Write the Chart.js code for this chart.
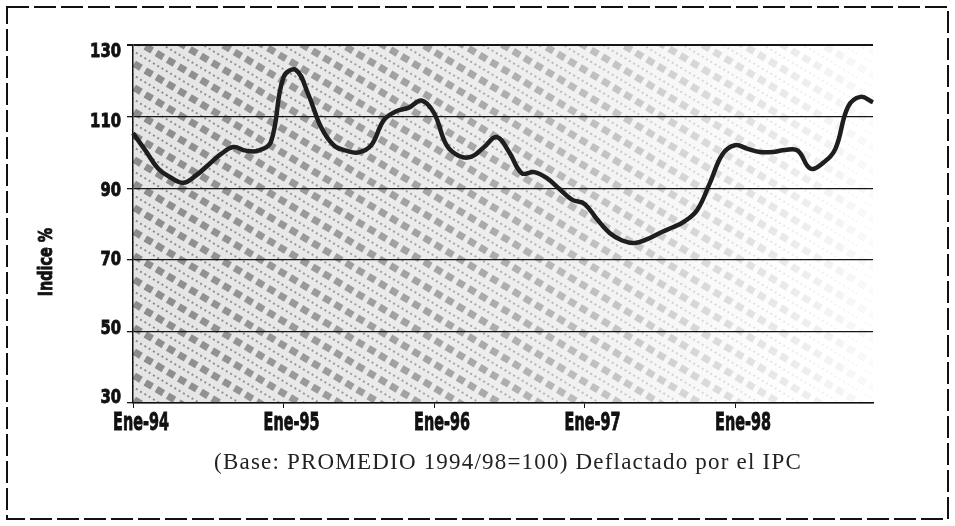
<!DOCTYPE html>
<html>
<head>
<meta charset="utf-8">
<script src="https://cdn.jsdelivr.net/npm/chart.js@4"></script>
<style>
  html, body { margin: 0; padding: 0; background: #fff; }
  #wrap { width: 955px; height: 526px; }
</style>
</head>
<body>
<div id="wrap"><canvas id="indiceChart" width="955" height="526"></canvas></div>
<script>
const months = ['Ene', 'Feb', 'Mar', 'Abr', 'May', 'Jun', 'Jul', 'Ago', 'Sep', 'Oct', 'Nov', 'Dic'];
const years = ['94', '95', '96', '97', '98'];
const yTicks = [30, 50, 70, 90, 110, 130];

// indice mensual, ene-94 .. dic-98
const indice = [
    105.4, 100.5, 95.5, 93, 91.5, 93.5, 96.5, 99.5, 101.5, 100.5, 100.5, 103,
    121, 123, 116, 107, 102, 100.5, 100, 102, 109, 111.5, 112.5, 114.5,
    111, 102, 99, 98.8, 101.5, 104.3, 100, 94.2, 94.5, 92.8, 89.8, 86.8,
    85.6, 81.3, 77.5, 75.4, 74.7, 75.8, 77.5, 79, 80.8, 84, 91.5, 99.5,
    102, 101, 100.1, 100.1, 100.7, 100.5, 95.5, 97, 101, 112.7, 115.5, 114
];

const labels = [];
years.forEach(y => months.forEach(m => labels.push(m + '-' + y)));

const boldFont = '"DejaVu Sans", sans-serif';

// texto bold estrechado a lo ancho (no hay fuente condensada instalada)
function narrowText(ctx, txt, x, y, size, squeeze, align) {
    ctx.save();
    ctx.font = 'bold ' + size + 'px ' + boldFont;
    ctx.textBaseline = 'middle';
    ctx.textAlign = align;
    ctx.translate(x, y);
    ctx.scale(squeeze, 1);
    ctx.lineWidth = 0.9;
    ctx.strokeStyle = '#111';
    ctx.fillText(txt, 0, 0);
    ctx.strokeText(txt, 0, 0);
    ctx.restore();
}

// fondo rayado que se desvanece hacia la derecha
const hatchPlugin = {
    id: 'hatch',
    beforeDraw(chart) {
        const { ctx, chartArea: a } = chart;
        ctx.save();
        ctx.beginPath();
        ctx.rect(a.left, a.top, a.right - a.left, a.bottom - a.top);
        ctx.clip();

        const base = ctx.createLinearGradient(a.left, 0, a.right, 0);
        base.addColorStop(0, 'rgba(120,120,120,0.2)');
        base.addColorStop(0.55, 'rgba(120,120,120,0.12)');
        base.addColorStop(0.9, 'rgba(120,120,120,0.0)');
        ctx.fillStyle = base;
        ctx.fillRect(a.left, a.top, a.right - a.left, a.bottom - a.top);

        const g = ctx.createLinearGradient(a.left, 0, a.right, 0);
        g.addColorStop(0, 'rgba(110,110,110,0.75)');
        g.addColorStop(0.45, 'rgba(110,110,110,0.55)');
        g.addColorStop(0.75, 'rgba(110,110,110,0.25)');
        g.addColorStop(1, 'rgba(110,110,110,0.04)');
        ctx.strokeStyle = g;
        const slope = 0.6;
        const h = a.right - a.left;
        ctx.lineWidth = 7;
        ctx.setLineDash([8, 5]);
        for (let y0 = a.top - h * slope; y0 < a.bottom + 20; y0 += 24) {
            ctx.beginPath();
            ctx.moveTo(a.left - 10, y0);
            ctx.lineTo(a.right + 10, y0 + (h + 20) * slope);
            ctx.stroke();
        }
        ctx.lineWidth = 2;
        ctx.setLineDash([2, 3]);
        for (let y0 = a.top - h * slope + 12; y0 < a.bottom + 20; y0 += 24) {
            ctx.beginPath();
            ctx.moveTo(a.left - 10, y0);
            ctx.lineTo(a.right + 10, y0 + (h + 20) * slope);
            ctx.stroke();
        }
        ctx.restore();
    }
};

const textPlugin = {
    id: 'texts',
    afterDraw(chart) {
        const ctx = chart.ctx;
        const xs = chart.scales.x;
        const ys = chart.scales.y;
        ctx.fillStyle = '#111';

        // etiquetas del eje y
        yTicks.forEach(v => {
            const py = ys.getPixelForValue(v) + (v - 70) * 0.12;
            narrowText(ctx, String(v), 121, py, 20, 0.74, 'right');
        });

        // etiquetas del eje x (solo enero)
        labels.forEach((lab, i) => {
            if (i % 12 !== 0) return;
            narrowText(ctx, lab, xs.getPixelForValue(i) + 8, 424, 24, 0.6, 'center');
        });

        // titulo del eje y
        ctx.save();
        ctx.translate(47, 262);
        ctx.rotate(-Math.PI / 2);
        narrowText(ctx, 'Indice %', 0, 0, 20, 0.72, 'center');
        ctx.restore();

        ctx.save();
        ctx.fillStyle = '#222';
        ctx.font = '23px "Liberation Serif", serif';
        ctx.letterSpacing = '1.2px';
        ctx.textAlign = 'center';
        ctx.textBaseline = 'middle';
        ctx.fillText('(Base: PROMEDIO 1994/98=100) Deflactado por el IPC', 508, 463);
        ctx.restore();

        ctx.save();
        ctx.strokeStyle = '#111';
        ctx.lineWidth = 2;
        ctx.setLineDash([22, 5]);
        ctx.strokeRect(7, 7, 941, 512);
        ctx.restore();
    }
};

new Chart(document.getElementById('indiceChart').getContext('2d'), {
    type: 'line',
    data: {
        labels: labels,
        datasets: [{
            label: 'Indice',
            data: indice,
            borderColor: '#1e1e1e',
            borderWidth: 4.5,
            pointRadius: 0,
            tension: 0.4,
            fill: false
        }]
    },
    options: {
        responsive: false,
        animation: false,
        events: [],
        layout: { padding: { top: 45, right: 82, left: 0, bottom: 0 } },
        plugins: {
            legend: { display: false },
            tooltip: { enabled: false }
        },
        scales: {
            x: {
                type: 'category',
                offset: false,
                afterFit: s => { s.height = 123; },
                border: { display: true, color: '#111', width: 1.5 },
                grid: {
                    drawOnChartArea: false,
                    drawTicks: true,
                    tickLength: 5,
                    color: c => (c.index % 12 === 0 ? '#111' : 'rgba(0,0,0,0)')
                },
                ticks: { display: false, autoSkip: false }
            },
            y: {
                min: 30,
                max: 130,
                afterFit: s => { s.width = 133; },
                afterBuildTicks: s => { s.ticks = yTicks.map(v => ({ value: v })); },
                border: { display: true, color: '#111', width: 1.5 },
                grid: {
                    color: '#151515',
                    lineWidth: c => (c.tick && c.tick.value === 130 ? 2 : 1.3),
                    tickLength: 6
                },
                ticks: { display: false }
            }
        }
    },
    plugins: [hatchPlugin, textPlugin]
});
</script>
</body>
</html>
